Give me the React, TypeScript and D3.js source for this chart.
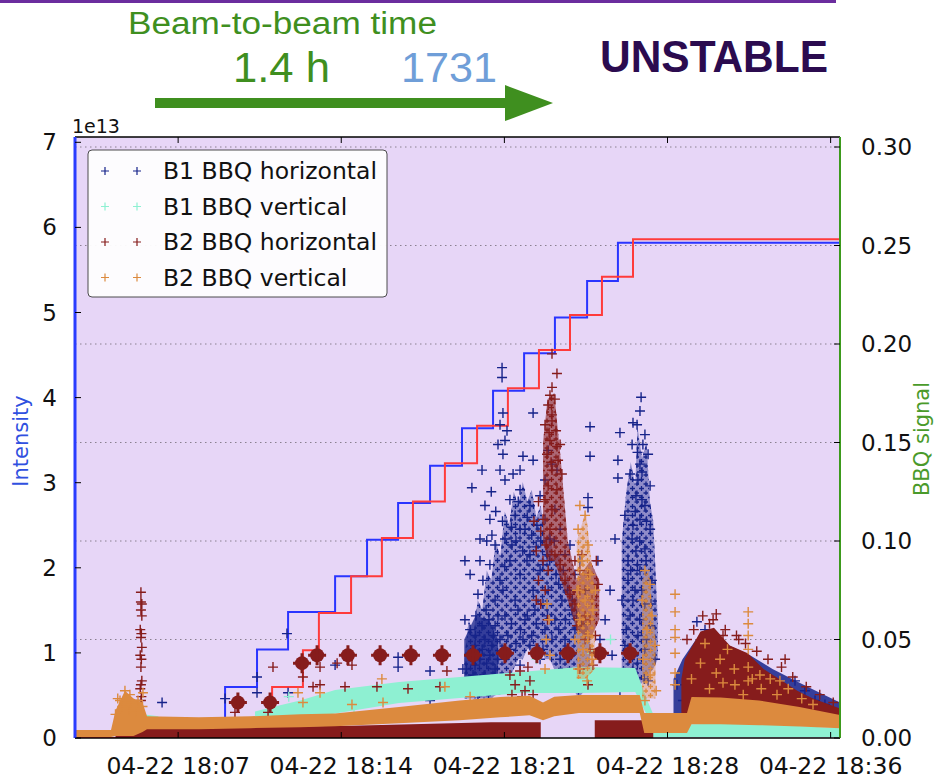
import React from "react";
import * as d3 from "d3";

// ---------- DATA ----------
const seriesNames = ["B1 BBQ horizontal", "B1 BBQ vertical", "B2 BBQ horizontal", "B2 BBQ vertical"];
const seriesColors = ["#16238a", "#8ef0d2", "#861c1c", "#dc8a3e"];

const xTickTimes = ["18:07:05", "18:14:20", "18:21:35", "18:28:50", "18:36:05"];
const intensityTicks = [0, 1, 2, 3, 4, 5, 6, 7];
const bbqTicks = [0, 0.05, 0.1, 0.15, 0.2, 0.25, 0.3];

// minutes after 18:00
const domainMinutes = [2.5, 36.5];

// Intensity (units of 1e13), step-after
const b1StepMinutes = [2.5, 9.17, 10.59, 11.97, 14.06, 15.48, 16.86, 18.28, 19.7, 21.08, 22.46, 23.83, 25.26, 26.63, 36.5];
const b1StepValues = [0, 0.6, 1.04, 1.48, 1.9, 2.33, 2.76, 3.2, 3.64, 4.08, 4.52, 4.94, 5.37, 5.82, 5.82];
const b2StepMinutes = [2.5, 11.26, 12.63, 13.34, 14.77, 16.14, 17.52, 18.94, 20.37, 21.74, 23.12, 24.5, 25.92, 27.3, 36.5];
const b2StepValues = [0, 0.6, 1.03, 1.47, 1.9, 2.35, 2.78, 3.23, 3.67, 4.11, 4.56, 4.97, 5.42, 5.86, 5.86];

// Dense bands [minute, low, high] (BBQ signal)
const b1hCoreMain = [[19.8, .02, .04], [20.0, .02, .06], [20.2, .02, .052], [20.4, .02, .07], [20.6, .02, .065], [20.8, .02, .085], [21.0, .02, .08], [21.2, .022, .1], [21.4, .022, .092], [21.6, .025, .115], [21.8, .03, .108], [22.0, .035, .125], [22.2, .04, .118], [22.4, .04, .13], [22.6, .045, .12], [22.8, .045, .126], [23.0, .045, .112], [23.2, .045, .118], [23.4, .04, .1], [23.6, .04, .105], [23.8, .035, .09], [24.0, .03, .095], [24.2, .03, .08], [24.4, .025, .083], [24.6, .025, .07], [24.8, .022, .072], [25.0, .022, .06], [25.2, .025, .062], [25.4, .03, .05]];
const b1hBlobLow = [[19.8, .022, .05], [20.3, .022, .062], [20.9, .025, .06], [21.3, .03, .05]];
const b1hCoreRight = [[26.8, .03, .1], [27.0, .028, .125], [27.2, .025, .14], [27.4, .025, .128], [27.5, .025, .158], [27.7, .028, .142], [27.9, .03, .15], [28.05, .033, .12], [28.2, .035, .11], [28.4, .04, .06]];
const b1hCloudLate = [[29.1, .01, .03], [29.5, .01, .04], [30.1, .012, .05], [31.0, .012, .05], [32.5, .012, .042], [33.5, .011, .035], [34.7, .01, .028], [35.6, .009, .023], [36.5, .008, .018]];
const b1vBandEarly = [[5.5, .008, .012], [6.2, .008, .011]];
const b1vBandMain = [[10.5, .0105, .0135], [11.2, .0095, .0155], [12.5, .0095, .019], [14.06, .0125, .0244], [16.9, .0178, .0284], [19.6, .0203, .031], [22.3, .0228, .0335], [24.9, .0228, .036], [27.4, .0233, .0355], [27.9, .012, .02], [28.2, .006, .012]];
const b1vBandLate = [[28.0, .0005, .0066], [30, .0005, .007], [32, .0005, .0075], [34, .0005, .0065], [36.5, .0005, .005]];
const b2hBandLow1 = [[4.3, 0, .006], [5.6, 0, .0052], [14.8, 0, .0062], [21.0, 0, .008], [23.2, 0, .008]];
const b2hBandLow2 = [[25.6, 0, .009], [28.2, 0, .009]];
const b2hSpikeCore = [[23.3, .1, .15], [23.5, .09, .172], [23.8, .09, .175], [24.1, .08, .14], [24.4, .07, .1], [24.8, .055, .08], [25.4, .05, .09], [25.8, .06, .08]];
const b2hCloudLate = [[29.45, .012, .03], [29.6, .012, .04], [30.3, .012, .054], [30.9, .012, .056], [31.6, .012, .047], [32.4, .012, .043], [33.1, .011, .035], [33.8, .01, .03], [34.6, .01, .024], [35.3, .009, .02], [36.5, .009, .015]];
const b2vBand = [[2.5, .0005, .004], [4.1, .0005, .004], [4.3, .001, .014], [4.72, .001, .024], [5.1, .001, .02], [5.5, .003, .018], [5.7, .0045, .011], [8.0, .0045, .0105], [10.3, .005, .011], [12.5, .0055, .012], [14.06, .006, .0125], [16.9, .0075, .0157], [19.6, .009, .019], [21.4, .0105, .0208], [22.7, .0115, .0215], [23.3, .009, .018], [23.8, .011, .021], [24.9, .0127, .0218], [27.6, .0127, .0218], [27.8, .0025, .0127], [29.7, .0025, .0127], [29.9, .007, .0208], [31.2, .007, .0205], [32.9, .0065, .019], [34.7, .0058, .0157], [36.5, .005, .0117]];
const b2vSpikeCore = [[24.8, .03, .1], [25.2, .03, .115], [25.6, .035, .075]];
const b2vColumnCore = [[27.7, .02, .08], [28.0, .02, .085], [28.3, .02, .05]];

// Individual markers [minute, BBQ signal]
const b1hPoints = [
  [21.48, .188], [21.48, .183], [21.52, .165], [21.39, .159], [21.61, .151], [21.52, .144], [21.39, .136], [21.61, .131], [21.3, .149], [21.7, .156],
  [22.86, .165], [22.41, .143], [22.86, .141], [25.39, .158], [25.39, .143], [25.3, .122], [25.3, .117], [26.72, .155], [26.63, .141], [26.63, .132],
  [20.72, .118], [20.94, .111], [20.5, .101], [21.17, .098], [21.83, .121], [22.06, .113], [22.28, .126], [22.5, .106], [22.72, .118], [23.17, .123], [23.39, .111], [23.61, .101], [23.83, .116], [24.06, .106], [24.28, .093], [24.5, .098], [24.72, .083], [24.94, .09], [25.17, .075],
  [20.94, .088], [21.39, .08], [21.83, .09], [22.28, .083], [22.72, .093], [23.17, .085], [23.53, .075], [23.88, .083], [24.14, .07], [24.59, .065],
  [20.41, .073], [20.77, .065], [21.17, .07], [21.61, .062], [22.06, .07], [22.5, .06], [22.94, .065], [23.39, .055], [23.83, .06], [24.28, .05], [24.72, .055],
  [20.06, .055], [20.28, .047], [20.5, .04], [20.72, .05], [20.94, .042], [21.17, .035], [21.39, .05], [20.19, .032], [19.97, .024], [20.41, .019], [20.86, .027],
  [21.83, .045], [22.28, .037], [22.72, .047], [23.17, .04], [23.61, .032], [24.06, .04],
  [22.28, .106], [21.61, .101], [23.39, .131], [23.7, .139], [23.53, .146], [23.92, .136], [21.97, .134], [22.28, .136], [20.59, .136], [20.14, .127], [19.83, .09], [20.06, .083], [19.83, .06],
  [21.03, .103], [21.92, .098], [22.59, .09], [23.03, .108], [23.48, .093], [21.52, .075], [22.19, .065], [22.86, .075], [23.3, .068], [20.63, .08], [21.17, .057], [21.74, .052], [22.41, .05], [20.32, .062], [20.06, .042], [20.59, .057], [21.03, .047], [21.3, .04], [20.28, .037], [20.72, .032],
  [20.5, .09], [20.8, .1], [21.0, .125], [21.2, .115], [21.5, .11], [21.6, .087], [21.9, .107], [22.1, .1], [22.2, .12], [22.4, .095], [22.6, .112], [22.8, .103], [23.0, .097], [23.2, .1], [23.3, .088], [23.6, .09], [23.8, .1], [24.0, .078], [24.2, .085], [24.4, .075], [24.6, .07], [24.8, .062], [25.0, .058],
  [20.3, .052], [20.6, .045], [20.9, .06], [21.1, .052], [21.3, .062], [21.6, .04], [21.9, .058], [22.1, .048], [22.3, .055], [22.6, .062], [22.8, .052], [23.0, .058], [23.3, .045], [23.5, .062], [23.7, .05], [24.0, .055], [24.3, .06], [19.9, .035], [20.2, .025], [20.5, .03], [20.8, .038], [21.1, .028],
  [27.66, .173], [27.61, .166], [27.48, .159], [27.83, .154], [27.26, .149], [27.97, .144], [27.61, .139], [27.17, .134], [28.06, .128], [27.43, .123], [27.83, .118], [26.94, .113], [27.61, .111], [28.06, .106], [27.26, .101], [27.83, .096], [27.08, .09], [27.61, .085], [28.14, .08], [27.39, .075], [26.81, .07], [27.83, .068], [27.17, .062], [28.06, .057], [27.52, .052], [26.94, .047], [27.83, .045], [28.28, .04], [27.3, .035], [27.97, .029], [26.72, .024], [26.28, .075], [26.06, .06], [25.83, .05], [26.37, .042], [25.74, .09], [26.5, .101], [27.74, .149], [27.52, .131], [27.7, .121], [27.3, .108], [27.88, .09], [27.43, .095], [27.08, .08], [27.7, .075],
  [27.3, .16], [27.5, .145], [27.7, .135], [27.4, .115], [27.6, .1], [27.2, .085], [27.9, .11], [27.5, .088], [27.3, .07], [27.6, .06], [27.9, .05], [27.2, .045], [27.5, .038], [27.8, .03], [27.0, .055], [28.1, .068],
  [29.26, .027], [29.52, .019], [29.83, .014], [30.14, .059], [30.5, .055], [34.5, .029], [34.94, .024], [35.39, .019], [35.83, .017], [36.28, .013],
  [6.37, .018], [10.59, .031], [10.59, .023], [11.92, .053], [11.97, .023], [14.06, .037], [16.86, .041], [16.86, .036], [18.28, .034], [18.28, .019], [19.74, .035], [9.17, .02], [15.83, .024],
  [8.5, .001], [11.2, .0015], [12.5, .001], [14.5, .002], [15.8, .0025], [17.5, .002], [19.0, .0015], [20.5, .001],
];
const b1vPoints = [[14.9, .0155], [17.8, .022], [25.48, .043], [23.0, .04], [12.0, .021], [26.3, .05]];
const b2hPoints = [
  [5.43, .074], [5.43, .069], [5.47, .068], [5.43, .065], [5.47, .062], [5.4, .055], [5.45, .053], [5.43, .051], [5.47, .046], [5.4, .042], [5.45, .04], [5.43, .036], [5.47, .029], [5.43, .027], [5.4, .025], [5.45, .021], [5.43, .019],
  [9.61, .013], [11.3, .036], [12.63, .031], [13.08, .026], [13.39, .036], [13.39, .027], [11.08, .013], [14.81, .037], [14.5, .026], [15.92, .026], [17.3, .025], [19.03, .034], [18.72, .026], [14.15, .038],
  [23.7, .195], [23.92, .185], [23.7, .178], [23.61, .174], [23.83, .172], [23.53, .169], [23.7, .164], [23.39, .159], [23.88, .156], [23.61, .151], [24.06, .149], [23.48, .144], [23.97, .141], [23.7, .136], [24.14, .134], [23.53, .128], [23.92, .126], [23.39, .121], [23.7, .116], [23.3, .111], [23.61, .106], [23.44, .098], [23.83, .093], [23.53, .085], [24.06, .088], [24.28, .08], [24.5, .073], [24.72, .068], [24.94, .075], [25.17, .062], [24.81, .057], [25.39, .06], [25.63, .052], [25.17, .05], [25.39, .045], [24.94, .085], [24.72, .09], [23.7, .161], [23.57, .155], [23.92, .148], [23.66, .14],
  [23.1, .12], [23.2, .105], [23.0, .095], [23.3, .09], [23.1, .08], [23.4, .075], [23.2, .068], [23.5, .06], [22.9, .11], [23.0, .07],
  [21.83, .032], [22.06, .027], [22.28, .034], [22.5, .024], [22.72, .029], [21.92, .022], [22.37, .021], [22.63, .036], [22.86, .022],
  [25.03, .093], [25.3, .083], [25.48, .07], [25.67, .09], [25.08, .06], [25.74, .078], [24.94, .035], [25.3, .027], [25.52, .037],
  [30.86, .06], [34.06, .04], [31.3, .052], [32.0, .05],
  [29.7, .05], [30.0, .055], [30.4, .062], [30.7, .058], [31.0, .063], [31.4, .055], [31.9, .052], [32.3, .048], [32.8, .044], [33.3, .04], [33.9, .036], [34.4, .031], [35.0, .026], [35.6, .022], [36.2, .018],
];
const b2hBlobs = [[9.74, .018], [11.17, .018], [12.59, .038], [13.26, .042], [14.63, .042], [16.06, .042], [17.43, .042], [18.81, .042], [20.19, .042], [21.61, .043], [23.03, .043], [24.41, .043], [25.83, .043], [27.17, .043]];
const b2vPoints = [
  [4.72, .024], [4.94, .022], [4.5, .019], [5.3, .019], [5.52, .023], [4.3, .012], [4.6, .016], [4.9, .014], [5.2, .013], [5.5, .016], [4.4, .02], [5.0, .018],
  [12.41, .023], [12.63, .018], [13.39, .023], [16.14, .03], [14.81, .017], [16.19, .018], [18.94, .026], [20.06, .021],
  [24.94, .118], [25.17, .113], [24.86, .106], [25.3, .098], [25.03, .09], [25.39, .083], [24.81, .075], [25.17, .07], [25.52, .065], [24.94, .06], [25.3, .052], [25.08, .045], [25.48, .04], [24.86, .035], [25.26, .029], [25.63, .075], [24.72, .05],
  [23.48, .068], [23.57, .06], [23.44, .05], [23.61, .042], [23.39, .035],
  [27.83, .085], [28.06, .078], [27.7, .07], [28.14, .062], [27.92, .055], [28.28, .047], [27.74, .04], [28.06, .032], [28.33, .024], [27.83, .019],
  [29.17, .073], [29.17, .064], [29.17, .055], [29.17, .051], [29.17, .043], [29.17, .033], [29.17, .027],
  [32.42, .064], [32.42, .058], [32.42, .052], [32.42, .045], [32.42, .036], [32.42, .029],
  [31.17, .04], [32.94, .032], [33.83, .029], [31.83, .027],
  [29.9, .03], [30.3, .038], [30.7, .025], [31.0, .033], [31.5, .045], [31.8, .035], [32.2, .022], [32.6, .03], [33.0, .025], [33.4, .03], [33.7, .022], [34.2, .025], [34.8, .02], [35.3, .017], [30.5, .048], [31.3, .028],
];

// ---------- LAYOUT ----------
const W = 937, H = 779;
const L = 75, R = 840, T = 137, B = 738;
const BASE = new Date(2012, 3, 22, 18, 0, 0).getTime();
const tm = (m: number) => new Date(BASE + m * 60000);
const toMin = (s: string) => { const [h, mm, ss] = s.split(":").map(Number); return (h - 18) * 60 + mm + ss / 60; };

export default function App() {
  const x = d3.scaleTime().domain(domainMinutes.map(tm)).range([L, R]);
  const yL = d3.scaleLinear().domain([0, (B - T) / 85.1]).range([B, T]);
  const yR = d3.scaleLinear().domain([0, (B - T) / 1970]).range([B, T]);
  const fmt = d3.timeFormat("%m-%d %H:%M");
  const xm = (m: number) => x(tm(m));

  const area = d3.area<number[]>().x(d => xm(d[0])).y0(d => yR(d[1])).y1(d => yR(d[2]));
  const step = d3.line<number[]>().x(d => xm(d[0])).y(d => yL(d[1])).curve(d3.curveStepAfter);

  const crosses = (pts: number[][], s = 5) =>
    pts.map(p => { const cx = xm(p[0]), cy = yR(p[1]); return `M${cx - s},${cy}h${2 * s}M${cx},${cy - s}v${2 * s}`; }).join("");

  const b1Line = b1StepMinutes.map((m, i) => [m, b1StepValues[i]]);
  const b2Line = b2StepMinutes.map((m, i) => [m, b2StepValues[i]]);
  const font = "DejaVu Sans, sans-serif";
  const [cNavy, cCyan, cRed, cOrange] = seriesColors;
  const pattern = (id: string, c: string) => (
    <pattern id={id} width={9} height={9} patternUnits="userSpaceOnUse">
      <path d="M0,2.5h5M2.5,0v5M4.5,7h5M7,4.5v5" stroke={c} strokeWidth={1.3} />
    </pattern>
  );

  return (
    <svg width={W} height={H} style={{ position: "absolute", left: 0, top: 0, display: "block", background: "#fff" }}>
      <defs>
        <clipPath id="plot"><rect x={L} y={T} width={R - L} height={B - T} /></clipPath>
        {pattern("pNavy", cNavy)}
        {pattern("pRed", cRed)}
        {pattern("pOrange", cOrange)}
      </defs>
      {/* header */}
      <rect x={0} y={0} width={836} height={3} fill="#6b2d9e" />
      <text x={128} y={34} fontFamily="Liberation Sans, Arial, sans-serif" fontSize={31} fill="#3f8f1f" textLength={309} lengthAdjust="spacingAndGlyphs">Beam-to-beam time</text>
      <text x={233} y={82} fontFamily="Liberation Sans, Arial, sans-serif" fontSize={42} fill="#3f8f1f" textLength={97} lengthAdjust="spacingAndGlyphs">1.4 h</text>
      <text x={401} y={82} fontFamily="Liberation Sans, Arial, sans-serif" fontSize={42} fill="#6f9ed8" textLength={96} lengthAdjust="spacingAndGlyphs">1731</text>
      <rect x={155} y={98} width={352} height={10} fill="#3f8f1f" />
      <polygon points="505,85 553,103 505,121" fill="#3f8f1f" />
      <text x={600} y={72} fontFamily="Liberation Sans, Arial, sans-serif" fontWeight="bold" fontSize={44} fill="#2b0b4f" textLength={228} lengthAdjust="spacingAndGlyphs">UNSTABLE</text>

      {/* plot background */}
      <rect x={L} y={T} width={R - L} height={B - T} fill="#e7d6f7" />
      {bbqTicks.filter(v => v > 0).map(v => (
        <line key={"g" + v} x1={L} x2={R} y1={yR(v)} y2={yR(v)} stroke="#8a8090" strokeWidth={1} strokeDasharray="1.5,3.5" />
      ))}

      <g clipPath="url(#plot)">
        {/* intensity (primary axis, drawn below the BBQ twin axis) */}
        <path d={step(b1Line) || ""} fill="none" stroke="#2a35ff" strokeWidth={2} />
        <path d={step(b2Line) || ""} fill="none" stroke="#ff3b3b" strokeWidth={2} />

        {/* B1 horizontal */}
        <path d={area(b1hCoreMain) || ""} fill={cNavy} opacity={0.42} />
        <path d={area(b1hCoreMain) || ""} fill="url(#pNavy)" />
        <path d={area(b1hBlobLow) || ""} fill={cNavy} opacity={0.75} />
        <path d={area(b1hCoreRight) || ""} fill={cNavy} opacity={0.42} />
        <path d={area(b1hCoreRight) || ""} fill="url(#pNavy)" />
        <path d={area(b1hCloudLate) || ""} fill={cNavy} opacity={0.85} />
        <path d={crosses(b1hPoints)} stroke={cNavy} strokeWidth={1.4} fill="none" />
        {/* B1 vertical */}
        <path d={area(b1vBandEarly) || ""} fill={cCyan} />
        <path d={area(b1vBandMain) || ""} fill={cCyan} />
        <path d={area(b1vBandLate) || ""} fill={cCyan} />
        <path d={crosses(b1vPoints)} stroke={cCyan} strokeWidth={1.3} fill="none" />
        {/* B2 horizontal */}
        <path d={area(b2hBandLow1) || ""} fill={cRed} />
        <path d={area(b2hBandLow2) || ""} fill={cRed} />
        <path d={area(b2hSpikeCore) || ""} fill={cRed} opacity={0.6} />
        <path d={area(b2hSpikeCore) || ""} fill="url(#pRed)" />
        <path d={area(b2hCloudLate) || ""} fill={cRed} />
        <path d={crosses(b2hPoints)} stroke={cRed} strokeWidth={1.4} fill="none" />
        {b2hBlobs.map((p, i) => (
          <g key={"b" + i} transform={`translate(${xm(p[0])},${yR(p[1])})`}>
            <circle r={7} fill={cRed} />
            <path d="M-9,0H9M0,-10V10" stroke={cRed} strokeWidth={3} />
          </g>
        ))}
        {/* B2 vertical */}
        <path d={area(b2vBand) || ""} fill={cOrange} />
        <path d={area(b2vSpikeCore) || ""} fill={cOrange} opacity={0.35} />
        <path d={area(b2vSpikeCore) || ""} fill="url(#pOrange)" />
        <path d={area(b2vColumnCore) || ""} fill={cOrange} opacity={0.35} />
        <path d={area(b2vColumnCore) || ""} fill="url(#pOrange)" />
        <path d={crosses(b2vPoints)} stroke={cOrange} strokeWidth={1.4} fill="none" />
      </g>

      {/* spines */}
      <line x1={L} x2={R} y1={T} y2={T} stroke="#000" strokeWidth={1.5} />
      <line x1={L} x2={R} y1={B} y2={B} stroke="#000" strokeWidth={1.5} />
      <line x1={L} x2={L} y1={T} y2={B} stroke="#2a3cff" strokeWidth={3} />
      <line x1={R} x2={R} y1={T} y2={B} stroke="#3c9a1c" strokeWidth={2} />

      {/* x ticks */}
      {xTickTimes.map(s => {
        const t = tm(toMin(s));
        const px = x(t);
        return (
          <g key={s}>
            <line x1={px} x2={px} y1={B} y2={B - 6} stroke="#000" />
            <line x1={px} x2={px} y1={T} y2={T + 6} stroke="#000" />
            <text x={px} y={774} textAnchor="middle" fontFamily={font} fontSize={23.5} fill="#111">{fmt(t)}</text>
          </g>
        );
      })}
      {/* left ticks */}
      {intensityTicks.map(v => (
        <g key={"l" + v}>
          <line x1={L} x2={L + 6} y1={yL(v)} y2={yL(v)} stroke="#000" />
          <text x={57} y={yL(v)} textAnchor="end" dominantBaseline="central" fontFamily={font} fontSize={23} fill="#111">{v}</text>
        </g>
      ))}
      <text x={72} y={133} fontFamily={font} fontSize={19} fill="#111">1e13</text>
      {/* right ticks */}
      {bbqTicks.map(v => (
        <g key={"r" + v}>
          <line x1={R - 6} x2={R} y1={yR(v)} y2={yR(v)} stroke="#000" />
          <text x={861} y={yR(v)} dominantBaseline="central" fontFamily={font} fontSize={23} fill="#111">{v.toFixed(2)}</text>
        </g>
      ))}
      <text transform="translate(28,441) rotate(-90)" textAnchor="middle" fontFamily={font} fontSize={21} fill="#3050e0">Intensity</text>
      <text transform="translate(929,439) rotate(-90)" textAnchor="middle" fontFamily={font} fontSize={21} fill="#4a9a2a">BBQ signal</text>

      {/* legend */}
      <rect x={88} y={150} width={299} height={147} rx={4} fill="#fff" stroke="#444" strokeWidth={1} opacity={0.95} />
      {seriesNames.map((n, i) => {
        const cy = 171 + i * 35.5;
        return (
          <g key={n}>
            <path d={`M101,${cy}h8M105,${cy - 4}v8M133,${cy}h8M137,${cy - 4}v8`} stroke={seriesColors[i]} strokeWidth={1.2} />
            <text x={163} y={cy} dominantBaseline="central" fontFamily={font} fontSize={23.5} fill="#111">{n}</text>
          </g>
        );
      })}
    </svg>
  );
}
